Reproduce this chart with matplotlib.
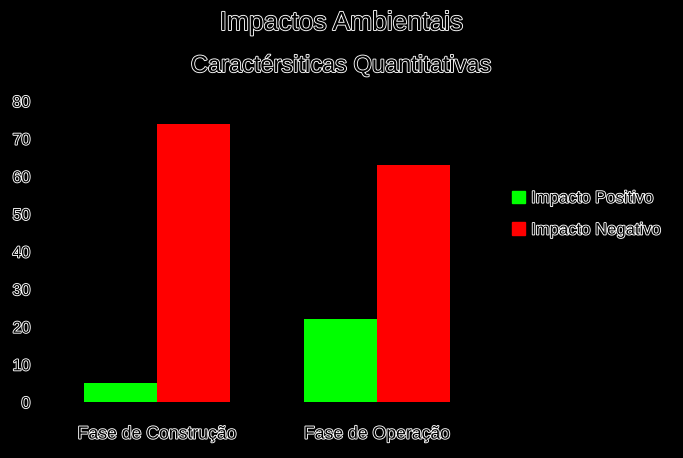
import matplotlib.pyplot as plt
import matplotlib.patheffects as pe
from matplotlib.patches import Patch

categories = ['Fase de Construção', 'Fase de Operação']
positivo = [5, 22]
negativo = [74, 63]
series_names = ['Impacto Positivo', 'Impacto Negativo']
yticks = [0, 10, 20, 30, 40, 50, 60, 70, 80]

plt.rcParams['font.family'] = ['Liberation Sans', 'DejaVu Sans']

# hollow text: black fill with a thin white outline
outline = [pe.Stroke(linewidth=1.3, foreground='white'), pe.Normal()]

W, H = 683, 458
fig = plt.figure(figsize=(W / 100, H / 100), dpi=100, facecolor='black')
ax = fig.add_axes([47 / W, (H - 402) / H, 440 / W, 301 / H])
ax.set_facecolor('black')

x = [0.5, 1.5]
w = 0.33
ax.bar([p - w / 2 for p in x], positivo, width=w, color='#00ff00', linewidth=0)
ax.bar([p + w / 2 for p in x], negativo, width=w, color='#ff0000', linewidth=0)

ax.set_xlim(0, 2)
ax.set_ylim(0, 80)
for s in ax.spines.values():
    s.set_visible(False)
ax.tick_params(length=0, pad=12)
ax.set_yticks(yticks)
ax.set_yticklabels([str(v) for v in yticks])
ax.set_xticks(x)
ax.set_xticklabels(categories)
ax.tick_params(axis='x', pad=17)
for lab in ax.get_yticklabels():
    lab.set_fontsize(11.5)
for lab in ax.get_xticklabels():
    lab.set_fontsize(12.7)
for lab in ax.get_xticklabels() + ax.get_yticklabels():
    lab.set_color('black')
    lab.set_path_effects(outline)

fig.text(0.5, 1 - 23 / H, 'Impactos Ambientais', ha='center', va='center',
         fontsize=19, color='black', path_effects=outline)
fig.text(0.5, 1 - 66 / H, 'Caractérsiticas Quantitativas', ha='center', va='center',
         fontsize=17, color='black', path_effects=outline)

handles = [Patch(color='#00ff00'), Patch(color='#ff0000')]
leg = fig.legend(handles, series_names, loc='center left',
                 bbox_to_anchor=(497 / W, 1 - 214 / H), frameon=False,
                 fontsize=12, handlelength=0.8, handleheight=0.8,
                 handletextpad=0.35, labelspacing=1.0)
for t in leg.get_texts():
    t.set_color('black')
    t.set_path_effects(outline)

fig.savefig('out.png', dpi=100, facecolor='black')
